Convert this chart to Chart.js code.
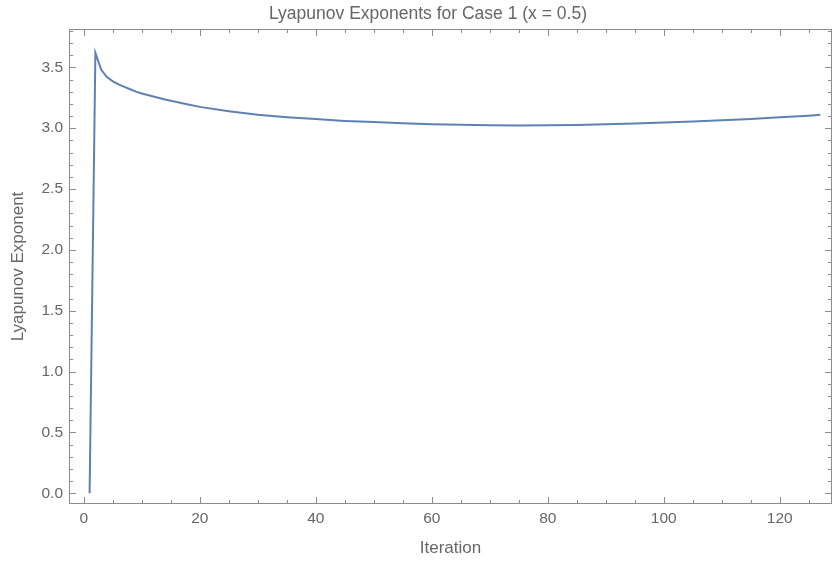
<!DOCTYPE html>
<html>
<head>
<meta charset="utf-8">
<script src="https://cdn.jsdelivr.net/npm/chart.js@4.4.0/dist/chart.umd.min.js"></script>
<style>
  html, body { margin: 0; padding: 0; background: #fff; }
</style>
</head>
<body>
<canvas id="lyapunovCanvas" width="833" height="562"></canvas>
<script>
// Values
const iterations = [1, 2, 3, 4, 5, 6, 7, 8, 9, 10, 12, 14, 16, 18, 20, 25, 30, 35, 40, 45, 50, 55, 60, 65, 70, 75, 80, 85, 90, 95, 100, 105, 110, 115, 120, 125, 127];
const exponents = [0.0, 3.62, 3.48, 3.42, 3.385, 3.36, 3.34, 3.32, 3.30, 3.285, 3.26, 3.235, 3.215, 3.195, 3.175, 3.14, 3.11, 3.09, 3.075, 3.06, 3.05, 3.04, 3.033, 3.028, 3.025, 3.023, 3.024, 3.027, 3.032, 3.038, 3.046, 3.055, 3.065, 3.076, 3.089, 3.103, 3.11];

// Tick labels
const xTicks = [0, 20, 40, 60, 80, 100, 120];
const yTicks = [0, 0.5, 1, 1.5, 2, 2.5, 3, 3.5];

const chartTitle = 'Lyapunov Exponents for Case 1 (x = 0.5)';
const textColor = '#666666';
const frameColor = '#8c8c8c';
const fontFamily = '"Liberation Sans", Arial, sans-serif';

// Mathematica style frame: box on four sides, inward ticks, minor ticks
const framePlugin = {
  id: 'mmaFrame',
  afterDatasetsDraw(chart) {
    const { ctx, chartArea: a, scales: { x, y } } = chart;
    ctx.save();
    ctx.strokeStyle = frameColor;
    ctx.lineWidth = 1;
    ctx.strokeRect(a.left + 0.5, a.top + 0.5, a.right - a.left - 1, a.bottom - a.top - 1);

    const tickX = (v, len) => {
      const px = Math.round(x.getPixelForValue(v)) + 0.5;
      ctx.moveTo(px, a.bottom); ctx.lineTo(px, a.bottom - len);
      ctx.moveTo(px, a.top); ctx.lineTo(px, a.top + len);
    };
    const tickY = (v, len) => {
      const py = Math.round(y.getPixelForValue(v)) + 0.5;
      ctx.moveTo(a.left, py); ctx.lineTo(a.left + len, py);
      ctx.moveTo(a.right, py); ctx.lineTo(a.right - len, py);
    };

    ctx.beginPath();
    for (let v = 0; v <= x.max; v += 5) {
      if (v < x.min) continue;
      tickX(v, v % 20 === 0 ? 7 : 4);
    }
    for (let i = 0; i / 10 <= y.max; i++) {
      tickY(i / 10, i % 5 === 0 ? 7 : 4);
    }
    ctx.stroke();

    // plot title, centred the way the reference has it
    ctx.fillStyle = textColor;
    ctx.font = '17.5px ' + fontFamily;
    ctx.textAlign = 'center';
    ctx.textBaseline = 'middle';
    ctx.fillText(chartTitle, 428, 14);
    ctx.restore();
  }
};

function setupChart() {
  const ctx = document.getElementById('lyapunovCanvas').getContext('2d');
  return new Chart(ctx, {
    type: 'line',
    data: {
      datasets: [{
        data: iterations.map((it, i) => ({ x: it, y: exponents[i] })),
        borderColor: '#5e81b5',
        borderWidth: 2,
        pointRadius: 0,
        tension: 0,
        fill: false
      }]
    },
    options: {
      responsive: false,
      animation: false,
      layout: { padding: { left: 0, right: 1, top: 29, bottom: 0 } },
      plugins: {
        legend: { display: false },
        tooltip: { enabled: false },
        title: { display: false }
      },
      scales: {
        x: {
          type: 'linear',
          min: -2.55,
          max: 129.0,
          grid: { display: false, drawTicks: false },
          border: { display: false },
          afterBuildTicks: s => { s.ticks = xTicks.map(v => ({ value: v })); },
          afterFit: s => { s.height = 58; },
          ticks: {
            color: textColor,
            font: { family: fontFamily, size: 15.5 },
            padding: 5,
            maxRotation: 0,
            autoSkip: false
          },
          title: {
            display: true,
            text: 'Iteration',
            color: textColor,
            font: { family: fontFamily, size: 17 },
            padding: { top: 0, bottom: 3 }
          }
        },
        y: {
          type: 'linear',
          min: -0.088,
          max: 3.815,
          grid: { display: false, drawTicks: false },
          border: { display: false },
          afterBuildTicks: s => { s.ticks = yTicks.map(v => ({ value: v })); },
          afterFit: s => { s.width = 69; },
          ticks: {
            color: textColor,
            font: { family: fontFamily, size: 15.5 },
            padding: 6,
            autoSkip: false,
            callback: v => v.toFixed(1)
          },
          title: {
            display: true,
            text: 'Lyapunov Exponent',
            color: textColor,
            font: { family: fontFamily, size: 17 },
            padding: { top: 8, bottom: 0 }
          }
        }
      }
    },
    plugins: [framePlugin]
  });
}

document.addEventListener('DOMContentLoaded', () => {
  setupChart();
});
</script>
</body>
</html>
